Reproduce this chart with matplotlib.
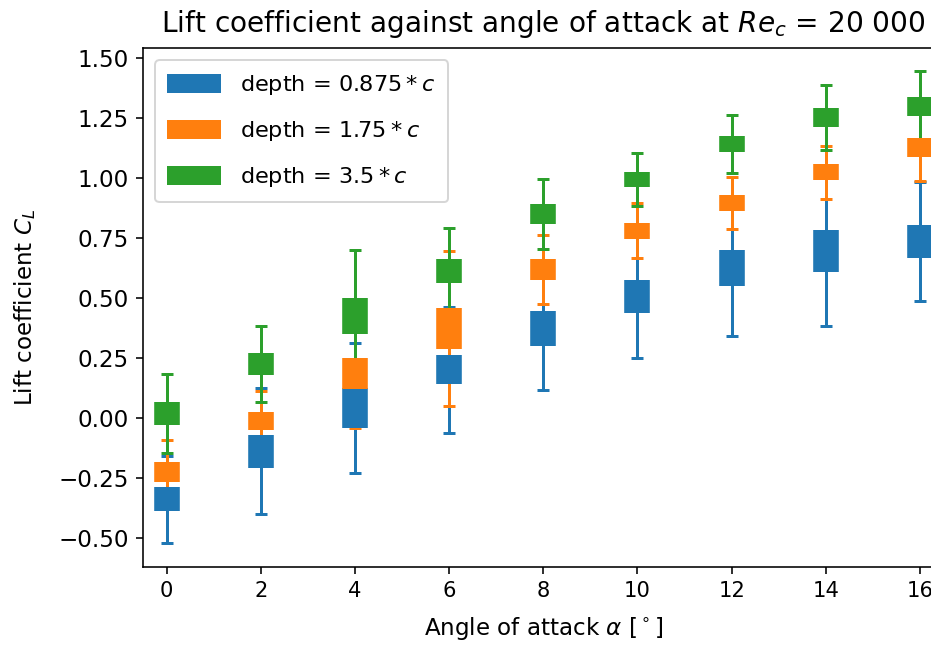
import matplotlib
matplotlib.use("Agg")
import matplotlib.pyplot as plt
from matplotlib.patches import Patch
import numpy as np

angles = [0, 2, 4, 6, 8, 10, 12, 14, 16]

labels = [r'depth = $0.875*c$', r'depth = $1.75*c$', r'depth = $3.5*c$']
colors = ['#1f77b4', '#ff7f0e', '#2ca02c']

mean_0875 = [-0.338, -0.139, 0.042, 0.201, 0.373, 0.508, 0.625, 0.695, 0.735]
std_0875 = [0.049, 0.068, 0.085, 0.061, 0.073, 0.069, 0.075, 0.088, 0.069]
err_0875 = [0.181, 0.263, 0.272, 0.263, 0.256, 0.256, 0.282, 0.312, 0.249]

mean_175 = [-0.225, -0.012, 0.184, 0.372, 0.620, 0.780, 0.897, 1.024, 1.127]
std_175 = [0.040, 0.038, 0.065, 0.085, 0.044, 0.034, 0.033, 0.033, 0.038]
err_175 = [0.132, 0.125, 0.227, 0.323, 0.144, 0.115, 0.109, 0.111, 0.138]

mean_35 = [0.019, 0.225, 0.425, 0.612, 0.850, 0.994, 1.142, 1.252, 1.299]
std_35 = [0.049, 0.044, 0.076, 0.051, 0.043, 0.030, 0.033, 0.038, 0.040]
err_35 = [0.165, 0.160, 0.275, 0.179, 0.144, 0.109, 0.120, 0.135, 0.148]

means = [mean_0875, mean_175, mean_35]
stds = [std_0875, std_175, std_35]
errs = [err_0875, err_175, err_35]

fig = plt.figure(figsize=(931 / 144, 646 / 144), dpi=144)
ax = fig.add_axes([143 / 931, 1 - 567 / 646, 800.6 / 931, (567 - 48) / 646])

# thin whiskers first, then thick bars on top
for m, e, c in zip(means, errs, colors):
    ax.errorbar(angles, m, yerr=e, fmt='none', ecolor=c, elinewidth=1.5,
                capsize=3, capthick=1.5)
for m, s, c in zip(means, stds, colors):
    ax.errorbar(angles, m, yerr=s, fmt='none', ecolor=c, elinewidth=12.8)

ax.set_xlim(-0.5, 16.5)
ax.set_ylim(-0.621, 1.542)
ax.set_xticks(angles)
ax.set_yticks([-0.5, -0.25, 0, 0.25, 0.5, 0.75, 1.0, 1.25, 1.5])
ax.tick_params(axis='y', labelsize=11.5)
ax.tick_params(axis='x', labelsize=10.5)

ax.set_title(r'Lift coefficient against angle of attack at $Re_c$ = 20 000',
             fontsize=14.0, pad=8)
ax.set_xlabel(r'Angle of attack $\alpha$ [$^\circ$]', fontsize=11.5, labelpad=7)
ax.set_ylabel(r'Lift coefficient $C_L$', fontsize=11.5, labelpad=10)

handles = [Patch(facecolor=c, edgecolor=c) for c in colors]
ax.legend(handles, labels, loc='upper left', fontsize=11.2, handlelength=2.3,
          handleheight=0.85, labelspacing=0.98, handletextpad=0.9,
          borderpad=0.58, borderaxespad=0.55)

fig.savefig('out.png', dpi=144)
